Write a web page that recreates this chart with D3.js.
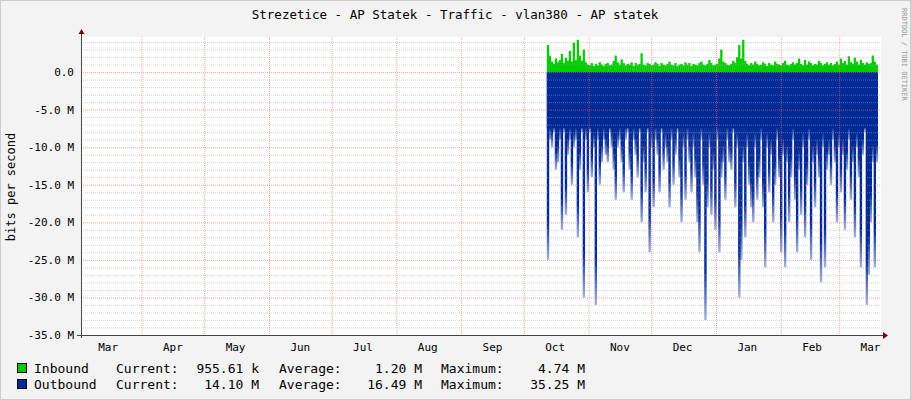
<!DOCTYPE html>
<html><head><meta charset="utf-8">
<script src="https://cdn.jsdelivr.net/npm/d3@7"></script>
<style>body{margin:0;background:#f3f3f3}text{font-family:"DejaVu Sans Mono",monospace;font-size:10px;fill:#000}</style>
</head><body><div id="chart"></div>
<script>
// data (bits per second, in M) sampled every ~0.95 day from Oct 12
const startDate = new Date(2022, 9, 12);
const stepHours = 22.9;
const inbound = [3.6,2.2,1.4,1.1,1.8,1.3,1.6,2.4,1.2,1.9,1.5,2.8,1.4,3.9,1.6,4.3,2.2,1.5,3.0,1.3,
  1.0,0.9,1.2,0.8,1.1,0.9,1.3,1.0,0.8,1.1,1.2,0.9,1.0,1.5,2.2,1.3,1.0,1.7,1.2,0.9,
  1.1,1.0,1.3,0.8,1.2,1.0,1.1,2.5,1.0,0.9,1.2,1.1,0.9,1.0,1.3,1.1,0.8,1.2,1.0,0.9,
  1.1,1.4,1.0,0.9,1.2,0.8,1.0,1.1,0.9,1.3,1.0,1.2,0.8,1.1,1.0,0.9,1.2,1.4,1.0,0.9,
  1.1,1.6,1.2,0.9,1.0,1.1,1.8,3.0,1.4,1.2,1.0,0.9,1.1,1.5,1.2,2.0,3.6,1.8,4.3,1.5,
  1.1,0.9,1.2,1.0,1.4,1.1,0.9,1.0,1.3,1.1,0.8,1.2,1.0,0.9,1.4,1.1,1.0,0.9,1.2,1.5,
  1.0,0.9,1.1,1.3,1.0,1.2,1.8,1.1,0.9,1.6,1.0,1.4,1.2,0.9,1.1,1.0,1.5,1.2,0.9,1.1,
  1.3,1.0,1.2,0.9,1.1,1.4,1.0,1.8,1.2,1.5,1.0,2.1,1.3,1.1,1.9,1.4,1.0,1.6,1.2,1.0,
  1.3,1.1,1.2,2.2,1.4,1.0];
const outbound = [25,9,10,8,13,12,9,21,8,19,11,9,15,10,9,22,13,8,30,9,
  16,8,14,10,31,9,15,12,9,11,12,8,10,13,17,10,9,12,16,9,
  8,13,17,9,11,14,8,20,12,16,8,24,10,18,9,11,16,8,13,10,
  12,18,9,15,11,8,14,20,10,17,9,12,16,10,14,20,24,9,15,33,
  18,10,19,13,21,9,24,14,12,17,9,12,13,8,18,10,30,25,12,22,
  10,15,18,20,10,17,14,9,18,26,10,16,11,20,15,9,14,24,11,26,
  12,20,14,9,17,24,13,19,10,22,15,9,25,12,18,11,14,28,10,26,
  13,11,15,9,12,20,10,16,11,21,13,9,17,12,22,10,14,26,11,8,
  31,27,20,12,26,12];
const yTicks = [0, -5, -10, -15, -20, -25, -30, -35];
const months = ["Mar","Apr","May","Jun","Jul","Aug","Sep","Oct","Nov","Dec","Jan","Feb","Mar"];

const W = 911, H = 400;
const m = {left: 81, right: 30, top: 37, bottom: 65};
const svg = d3.select("#chart").append("svg").attr("width", W).attr("height", H);
svg.append("rect").attr("width", W).attr("height", H).attr("fill", "#f3f3f3");

const x = d3.scaleTime()
  .domain([new Date(2022, 2, 3), new Date(2023, 2, 21)])
  .range([m.left, W - m.right]);
const y = d3.scaleLinear().domain([-35, 4.67]).range([H - m.bottom, m.top]);

svg.append("rect").attr("x", m.left).attr("y", m.top)
  .attr("width", x.range()[1] - m.left).attr("height", y(-35) - m.top).attr("fill", "#fff");

const monthStarts = d3.range(1, 13).map(i => new Date(2022, 2 + i, 1));

// data
const times = inbound.map((d, i) => new Date(+startDate + i * stepHours * 3600e3));
const bw = x(times[1]) - x(times[0]);
svg.append("g").selectAll("rect").data(inbound).enter().append("rect")
  .attr("x", (d, i) => x(times[i])).attr("y", d => y(d))
  .attr("width", bw + 0.3).attr("height", d => y(0) - y(d))
  .attr("fill", "#00cc00");

const defs = svg.append("defs");
const grad = defs.append("linearGradient").attr("id", "fade").attr("x1", 0).attr("x2", 0).attr("y1", 0).attr("y2", 1);
grad.append("stop").attr("offset", "0").attr("stop-color", "#002a97");
grad.append("stop").attr("offset", "0.8").attr("stop-color", "#002a97");
grad.append("stop").attr("offset", "1").attr("stop-color", "#002a97").attr("stop-opacity", 0.35);

svg.append("rect").attr("x", x(times[0])).attr("y", y(0))
  .attr("width", x(times[times.length - 1]) + bw - x(times[0])).attr("height", y(-7.5) - y(0))
  .attr("fill", "#002a97");
svg.append("g").selectAll("rect").data(outbound).enter().append("rect")
  .attr("x", (d, i) => x(times[i]))
  .attr("y", y(0))
  .attr("width", bw + 0.4)
  .attr("height", d => y(-d) - y(0))
  .attr("fill", "url(#fade)");

// grid
svg.append("g").selectAll("line").data(d3.range(-34, 5).filter(v => v % 5 != 0)).enter().append("line")
  .attr("x1", m.left).attr("x2", x.range()[1]).attr("y1", d => y(d) + .5).attr("y2", d => y(d) + .5)
  .attr("stroke", "#aaa").attr("stroke-opacity", 0.5).attr("stroke-dasharray", "1,1");
svg.append("g").selectAll("line").data(yTicks).enter().append("line")
  .attr("x1", m.left).attr("x2", x.range()[1]).attr("y1", d => y(d) + .5).attr("y2", d => y(d) + .5)
  .attr("stroke", "#f66").attr("stroke-opacity", 0.6).attr("stroke-dasharray", "1,1");
svg.append("g").selectAll("line").data(monthStarts).enter().append("line")
  .attr("x1", d => x(d) + .5).attr("x2", d => x(d) + .5).attr("y1", m.top).attr("y2", y(-35))
  .attr("stroke", "#f66").attr("stroke-opacity", 0.6).attr("stroke-dasharray", "1,1");

// y labels
svg.append("g").selectAll("text").data(yTicks).enter().append("text")
  .attr("x", 74).attr("y", d => y(d) + 4).attr("text-anchor", "end").style("font-size", "11px")
  .text(d => d.toFixed(1) + (d === 0 ? "" : " M"));
// x labels
svg.append("g").selectAll("text").data(months).enter().append("text")
  .attr("x", (d, i) => x(new Date(2022, 2 + i, 16)))
  .attr("y", 351).attr("text-anchor", "middle").style("font-size", "11px").text(d => d);

// axes
const ax = "#800000";
svg.append("line").attr("x1", m.left - 4).attr("x2", W - m.right + 4).attr("y1", y(-35) + .5).attr("y2", y(-35) + .5).attr("stroke", "#444");
svg.append("line").attr("x1", m.left + .5).attr("x2", m.left + .5).attr("y1", y(-35) + 3).attr("y2", m.top - 6).attr("stroke", "#444");
svg.append("path").attr("d", `M${W - m.right + 2},${y(-35) - 3}L${W - m.right + 7},${y(-35) + .5}L${W - m.right + 2},${y(-35) + 4}Z`).attr("fill", ax);
svg.append("path").attr("d", `M${m.left - 2.5},${m.top - 3}L${m.left + .5},${m.top - 8}L${m.left + 3.5},${m.top - 3}Z`).attr("fill", ax);

svg.append("text").attr("x", 455).attr("y", 19).attr("text-anchor", "middle").style("font-size", "12.5px")
  .text("Strezetice - AP Statek - Traffic - vlan380 - AP statek");
svg.append("text").attr("transform", "translate(15,187) rotate(-90)").attr("text-anchor", "middle").style("font-size", "12px")
  .text("bits per second");
svg.append("text").attr("transform", "translate(902,8) rotate(90)").style("font-size", "7px").style("fill", "#999")
  .text("RRDTOOL / TOBI OETIKER");

// legend
const legend = [
  {name: "Inbound", color: "#00cc00", cur: "955.61 k", avg: "1.20 M", max: "4.74 M"},
  {name: "Outbound", color: "#002a97", cur: "14.10 M", avg: "16.49 M", max: "35.25 M"}
];
const lg = svg.append("g").selectAll("g").data(legend).enter().append("g")
  .attr("transform", (d, i) => `translate(0,${372 + i * 16})`);
lg.append("rect").attr("x", 17.5).attr("y", -8.5).attr("width", 9).attr("height", 9)
  .attr("fill", d => d.color).attr("stroke", "#000");
const fs = "13px";
lg.append("text").attr("x", 34).attr("y", 1).style("font-size", fs).text(d => d.name);
lg.append("text").attr("x", 116).attr("y", 1).style("font-size", fs).text("Current:");
lg.append("text").attr("x", 259).attr("y", 1).style("font-size", fs).attr("text-anchor", "end").text(d => d.cur);
lg.append("text").attr("x", 279).attr("y", 1).style("font-size", fs).text("Average:");
lg.append("text").attr("x", 422).attr("y", 1).style("font-size", fs).attr("text-anchor", "end").text(d => d.avg);
lg.append("text").attr("x", 441).attr("y", 1).style("font-size", fs).text("Maximum:");
lg.append("text").attr("x", 585).attr("y", 1).style("font-size", fs).attr("text-anchor", "end").text(d => d.max);
svg.append("rect").attr("x", 0.5).attr("y", 0.5).attr("width", W - 1).attr("height", H - 1).attr("fill", "none").attr("stroke", "#ccc");
</script></body></html>
